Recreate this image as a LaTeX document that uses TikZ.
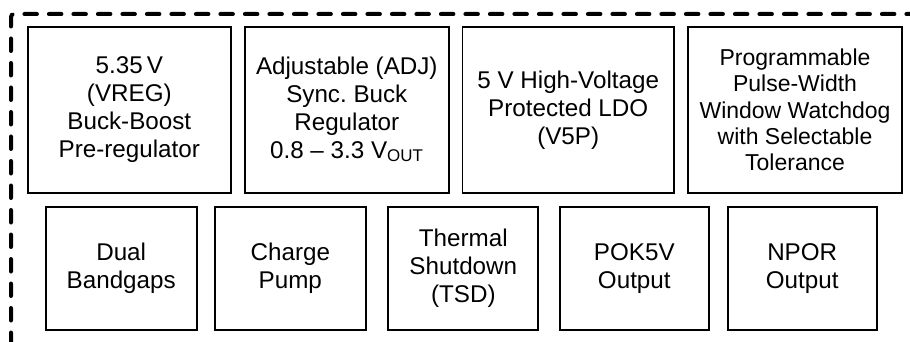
\documentclass[tikz,border=0pt]{standalone}
\usepackage{fontspec}
\setmainfont{Liberation Sans}
\frenchspacing
\begin{document}
\begin{tikzpicture}[x=1pt,y=-1pt,
  box/.style={draw, line width=1.7pt, align=center, inner sep=0pt,
    font=\fontsize{24.2}{27.8}\selectfont},
  toprow/.style={box, minimum height=166pt},
  botrow/.style={box, minimum height=123.3pt},
  border/.style={line width=4pt, line cap=round, dash pattern=on 12.5pt off 12pt, rounded corners=3pt}]
\useasboundingbox (0,0) rectangle (910,342);
\coordinate (bl) at (11,345);
\coordinate (tl) at (11,14);
\coordinate (tr) at (913,14);
\draw[border] (bl) -- (tl) -- (tr);
% top row
\node[toprow, minimum width=203.3pt] (vreg) at (129.3,109.7) {5.35\,V\\(VREG)\\Buck-Boost\\Pre-regulator};
\node[toprow, minimum width=203.7pt] (adj) at (346.8,109.7) {Adjustable (ADJ)\\Sync. Buck\\Regulator\\0.8 -- 3.3 V\textsubscript{OUT}};
\node[toprow, minimum width=211.7pt] (ldo) at (568.2,110) {5 V High-Voltage\\Protected LDO\\(V5P)};
\node[toprow, minimum width=214.6pt, font=\fontsize{23}{26.3}\selectfont] (wd) at (795,110) {Programmable\\Pulse-Width\\Window Watchdog\\with Selectable\\Tolerance};
% bottom row
\node[botrow, minimum width=151pt] (bg) at (121.2,268.3) {Dual\\Bandgaps};
\node[botrow, minimum width=150.7pt] (cp) at (290.3,268.3) {Charge\\Pump};
\node[botrow, minimum width=150pt] (tsd) at (463.3,268.3) {Thermal\\Shutdown\\(TSD)};
\node[botrow, minimum width=148.7pt] (pok) at (634.3,268.3) {POK5V\\Output};
\node[botrow, minimum width=149pt] (npor) at (802.2,268.3) {NPOR\\Output};
\end{tikzpicture}
\end{document}
